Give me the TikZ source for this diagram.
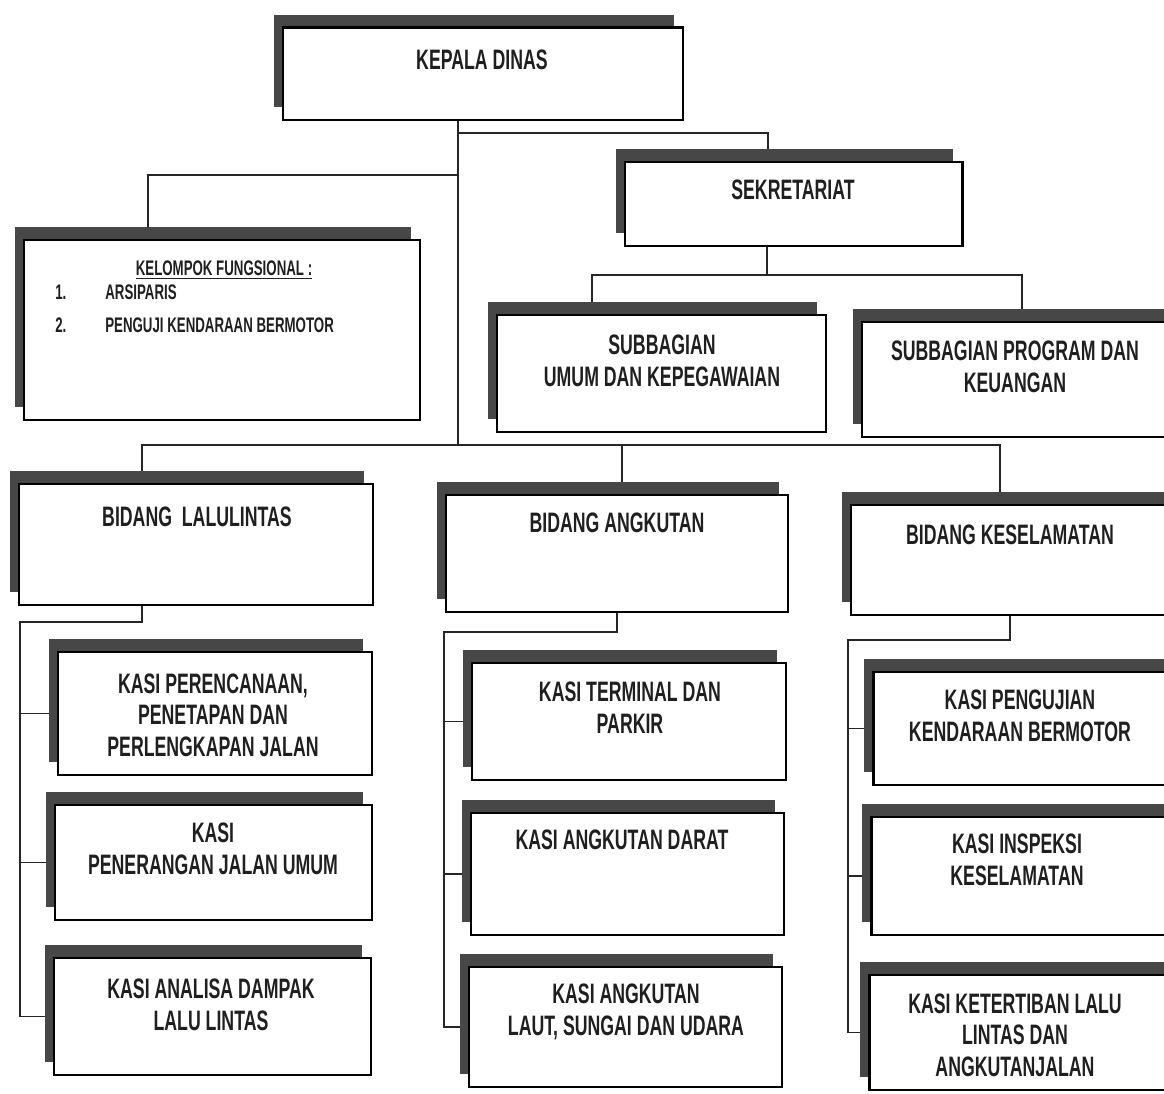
\documentclass[tikz,border=0pt]{standalone}
\usepackage{fontspec}
\newfontfamily\cf{Liberation Sans}[FakeStretch=0.63]
\usetikzlibrary{fit,shadows,backgrounds}
\begin{document}
\begin{tikzpicture}[x=0.02cm,y=-0.02cm,
  ob/.style={draw=black, line width=1.7pt, fill=white, inner sep=0pt,
    general shadow={fill=black!72, shadow xshift=-0.19cm, shadow yshift=0.26cm}},
  tx/.style={font=\cf\bfseries\fontsize{16}{18}\selectfont, align=center, inner sep=0pt, text=black!88},
  sx/.style={font=\cf\bfseries\fontsize{12}{14}\selectfont, inner sep=0pt, text=black!88},
  ln/.style={line width=1pt, black!85}]
\useasboundingbox (0,0) rectangle (1164,1094);
\clip (0,0) rectangle (1164,1094);

% boxes
\node[ob, fit={(283,28) (683,120)}] (kd) {};
\node[ob, fit={(625,162) (962,246)}] (sek) {};
\node[ob, fit={(24,240) (420,420)}] (kf) {};
\node[ob, fit={(497,315) (826,432)}] (su) {};
\node[ob, fit={(862,322) (1175,437)}] (sp) {};
\node[ob, fit={(19,484) (373,605)}] (bl) {};
\node[ob, fit={(446,495) (788,612)}] (ba) {};
\node[ob, fit={(851,505) (1175,615)}] (bk) {};
\node[ob, fit={(58,652) (372,775)}] (k11) {};
\node[ob, fit={(55,805) (372,920)}] (k12) {};
\node[ob, fit={(54,958) (371,1075)}] (k13) {};
\node[ob, fit={(472,663) (786,780)}] (k21) {};
\node[ob, fit={(471,813) (784,935)}] (k22) {};
\node[ob, fit={(469,967) (782,1087)}] (k23) {};
\node[ob, fit={(873,672) (1175,785)}] (k31) {};
\node[ob, fit={(871,817) (1175,935)}] (k32) {};
\node[ob, fit={(869,975) (1175,1090)}] (k33) {};

% texts
\node[tx] (tkd) at (482,60) {KEPALA DINAS};
\node[tx] (tsek) at (793,190) {SEKRETARIAT};
\node[sx] (tkf) at (224,270) {\underline{KELOMPOK FUNGSIONAL :}};
\node[sx, anchor=west] (n1) at (55,292) {1.};
\node[sx, anchor=west] (t1) at (105,292) {ARSIPARIS};
\node[sx, anchor=west] (n2) at (55,325) {2.};
\node[sx, anchor=west] (t2) at (105,325) {PENGUJI KENDARAAN BERMOTOR};
\node[tx] (tsu) at (662,361) {SUBBAGIAN\\UMUM DAN KEPEGAWAIAN};
\node[tx] (tsp) at (1015,367) {SUBBAGIAN PROGRAM DAN\\KEUANGAN};
\node[tx] (tbl) at (197,517) {BIDANG\ \ LALULINTAS};
\node[tx] (tba) at (617,523) {BIDANG ANGKUTAN};
\node[tx] (tbk) at (1010,535) {BIDANG KESELAMATAN};
\node[tx] (t11) at (213,715) {KASI PERENCANAAN,\\PENETAPAN DAN\\PERLENGKAPAN JALAN};
\node[tx] (t12) at (213,849) {KASI\\PENERANGAN JALAN UMUM};
\node[tx] (t13) at (211,1005) {KASI ANALISA DAMPAK\\LALU LINTAS};
\node[tx] (t21) at (630,708) {KASI TERMINAL DAN\\PARKIR};
\node[tx] (t22) at (622,840) {KASI ANGKUTAN DARAT};
\node[tx] (t23) at (626,1012) {KASI ANGKUTAN\\LAUT, SUNGAI DAN UDARA};
\node[tx] (t31) at (1020,716) {KASI PENGUJIAN\\KENDARAAN BERMOTOR};
\node[tx] (t32) at (1017,860) {KASI INSPEKSI\\KESELAMATAN};
\node[tx] (t33) at (1015,1035) {KASI KETERTIBAN LALU\\LINTAS DAN\\ANGKUTANJALAN};

% junctions
\coordinate (trunk) at (458,445);
\coordinate (js) at (458,133);
\coordinate (jsx) at (768,133);
\coordinate (jk) at (458,175);
\coordinate (jkx) at (148,175);
\coordinate (s1) at (767,275);
\coordinate (s2) at (592,275);
\coordinate (s3) at (1022,275);
\coordinate (b1) at (142,445);
\coordinate (b2) at (622,445);
\coordinate (b3) at (1000,445);
\coordinate (c1) at (142,622);
\coordinate (c2) at (20,622);
\coordinate (c3) at (617,632);
\coordinate (c4) at (444,632);
\coordinate (c5) at (1010,640);
\coordinate (c6) at (848,640);

\begin{scope}[on background layer]
\draw[ln] (kd.south -| trunk) -- (trunk);
\draw[ln] (js) -- (jsx) -- (sek.north -| jsx);
\draw[ln] (jk) -- (jkx) -- (kf.north -| jkx);
\draw[ln] (sek.south -| s1) -- (s1);
\draw[ln] (su.north -| s2) -- (s2) -- (s3) -- (sp.north -| s3);
\draw[ln] (bl.north -| b1) -- (b1) -- (b3) -- (bk.north -| b3);
\draw[ln] (b2) -- (ba.north -| b2);
\draw[ln] (bl.south -| c1) -- (c1) -- (c2) -- (c2 |- k13.west) -- (k13.west);
\draw[ln] (c2 |- k11.west) -- (k11.west);
\draw[ln] (c2 |- k12.west) -- (k12.west);
\draw[ln] (ba.south -| c3) -- (c3) -- (c4) -- (c4 |- k23.west) -- (k23.west);
\draw[ln] (c4 |- k21.west) -- (k21.west);
\draw[ln] (c4 |- k22.west) -- (k22.west);
\draw[ln] (bk.south -| c5) -- (c5) -- (c6) -- (c6 |- k33.west) -- (k33.west);
\draw[ln] (c6 |- k31.west) -- (k31.west);
\draw[ln] (c6 |- k32.west) -- (k32.west);
\end{scope}
\end{tikzpicture}
\end{document}
